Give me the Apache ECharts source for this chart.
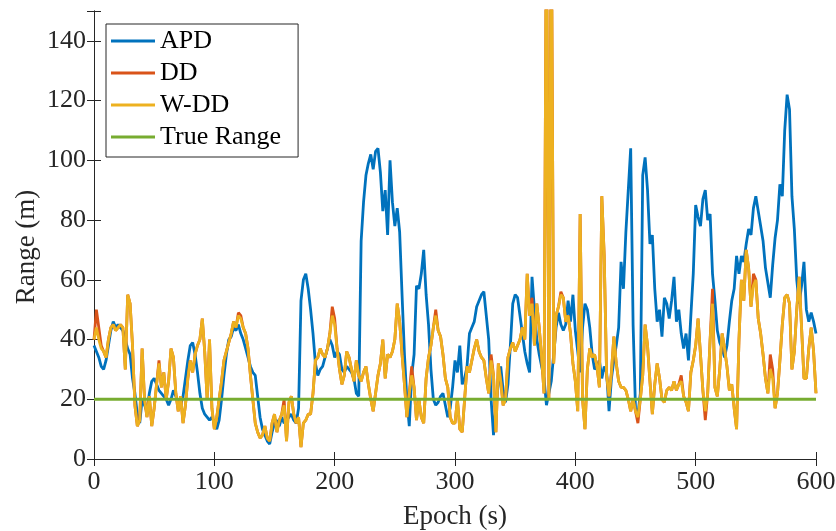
<!DOCTYPE html>
<html>
<head>
<meta charset="utf-8">
<script src="https://cdn.jsdelivr.net/npm/echarts@6/dist/echarts.min.js"></script>
<style>
  html, body { margin: 0; padding: 0; background: #ffffff; }
  #chart { width: 836px; height: 531px; }
</style>
</head>
<body>
<div id="chart"></div>
<script>
// Range estimates sampled every 2 s over a 600 s run
const sampleStep = 2;

// APD range estimate (m), one row per 20 s
const apd = [
  38, 36, 34, 31, 30, 33, 38, 43, 46, 44,
  45, 44, 43, 40, 37, 35, 27, 22, 15, 12,
  20, 18, 16, 22, 26, 27, 25, 23, 22, 21,
  20, 18, 20, 23, 21, 19, 18, 21, 27, 33,
  38, 39, 35, 29, 22, 17, 15, 14, 13, 14,
  12, 10, 13, 20, 28, 35, 40, 41, 44, 43,
  45, 42, 40, 37, 34, 31, 29, 28, 21, 14,
  10, 8, 6, 5, 9, 12, 13, 11, 14, 12,
  13, 14, 15, 13, 12, 17, 53, 60, 62, 57,
  50, 42, 32, 28, 30, 31, 34, 37, 40, 38,
  34, 36, 35, 30, 29, 31, 30, 29, 27, 22,
  21, 73, 86, 95, 99, 102, 97, 103, 104, 96,
  83, 90, 75, 100, 86, 78, 84, 76, 55, 35,
  20, 11, 28, 35, 58, 57, 62, 70, 55, 45,
  30, 20, 18, 19, 21, 22, 18, 14, 17, 24,
  33, 29, 38, 25, 27, 31, 42, 44, 46, 51,
  53, 55, 56, 48, 40, 20, 8, 18, 25, 31,
  23, 19, 25, 38, 52, 55, 54, 48, 42, 36,
  32, 29, 61, 50, 40, 35, 31, 27, 18, 22,
  26, 35, 44, 49, 45, 43, 45, 53, 46, 55,
  43, 36, 29, 44, 52, 50, 44, 35, 30, 31,
  33, 27, 31, 29, 16, 27, 33, 38, 44, 66,
  57, 76, 90, 104, 45, 17, 15, 22, 95, 101,
  90, 72, 75, 57, 46, 50, 41, 54, 52, 47,
  53, 61, 46, 50, 42, 37, 42, 33, 48, 62,
  85, 81, 78, 87, 90, 80, 82, 62, 53, 43,
  39, 37, 34, 38, 46, 53, 57, 68, 62, 68,
  66, 72, 77, 75, 84, 88, 83, 78, 73, 64,
  59, 54, 65, 74, 80, 92, 88, 110, 122, 117,
  88, 77, 60, 52, 58, 66, 50, 46, 49, 46,
  42
];

// DD range estimate (m)
const dd = [
  40, 50, 44, 38, 36, 34, 40, 44, 45, 43,
  44, 45, 44, 30, 55, 52, 38, 18, 11, 13,
  37, 20, 14, 21, 11, 17, 25, 33, 24, 29,
  20, 26, 37, 34, 22, 16, 21, 12, 18, 27,
  33, 29, 35, 38, 40, 47, 36, 20, 40, 17,
  10, 14, 20, 26, 33, 36, 39, 42, 46, 44,
  49, 48, 44, 42, 37, 28, 20, 12, 9, 7,
  8, 11, 7, 6, 12, 15, 9, 13, 15, 20,
  6, 19, 21, 15, 12, 14, 4, 12, 13, 15,
  15, 22, 33, 34, 37, 35, 34, 37, 42, 51,
  47, 37, 30, 25, 28, 36, 34, 30, 26, 33,
  28, 26, 29, 31, 25, 20, 16, 22, 28, 32,
  40, 27, 35, 34, 36, 40, 52, 46, 35, 25,
  14, 22, 31, 24, 13, 20, 14, 12, 27, 34,
  38, 44, 50, 43, 41, 35, 27, 24, 14, 12,
  12, 20, 10, 9, 20, 31, 29, 33, 37, 40,
  36, 34, 33, 27, 22, 35, 28, 9, 32, 26,
  18, 20, 34, 37, 39, 36, 38, 40, 44, 40,
  62, 48, 54, 38, 52, 44, 34, 22, 190, 20,
  190, 32, 48, 51, 56, 54, 46, 48, 42, 32,
  26, 16, 82, 20, 10, 30, 37, 34, 35, 31,
  24, 88, 68, 28, 21, 29, 41, 32, 26, 24,
  24, 23, 20, 16, 20, 16, 12, 20, 28, 45,
  38, 26, 15, 25, 32, 27, 20, 19, 23, 24,
  23, 26, 23, 25, 28, 21, 19, 16, 29, 33,
  38, 47, 35, 23, 13, 22, 40, 57, 24, 21,
  30, 42, 37, 31, 23, 25, 17, 10, 40, 60,
  53, 70, 64, 51, 62, 60, 47, 42, 35, 27,
  22, 35, 30, 17, 22, 33, 45, 54, 55, 52,
  30, 36, 50, 61, 44, 27, 27, 37, 44, 36,
  22
];

// W-DD range estimate (m)
const wdd = [
  40, 44, 40, 37, 36, 34, 40, 44, 45, 43,
  44, 45, 44, 30, 55, 52, 38, 18, 11, 13,
  37, 20, 14, 21, 11, 17, 25, 32, 24, 29,
  20, 26, 37, 34, 22, 16, 21, 12, 18, 27,
  33, 29, 35, 38, 40, 47, 36, 20, 40, 17,
  10, 14, 20, 26, 33, 36, 39, 42, 46, 44,
  48, 47, 44, 42, 37, 28, 20, 12, 9, 7,
  8, 11, 7, 6, 12, 15, 9, 13, 15, 18,
  6, 19, 21, 15, 12, 14, 4, 12, 13, 15,
  15, 22, 33, 34, 37, 35, 34, 37, 42, 48,
  45, 37, 30, 25, 28, 36, 34, 30, 26, 33,
  28, 26, 29, 31, 25, 20, 16, 22, 28, 32,
  40, 27, 35, 34, 36, 40, 52, 46, 35, 25,
  14, 22, 28, 24, 13, 20, 14, 12, 27, 34,
  38, 44, 48, 43, 41, 35, 27, 24, 14, 12,
  12, 20, 10, 9, 20, 31, 29, 33, 37, 40,
  36, 34, 33, 27, 22, 33, 28, 9, 32, 26,
  18, 20, 34, 37, 39, 36, 38, 40, 44, 40,
  62, 48, 52, 38, 52, 44, 34, 22, 190, 20,
  190, 32, 48, 51, 55, 54, 46, 48, 42, 32,
  26, 16, 82, 20, 10, 30, 37, 34, 35, 31,
  24, 88, 68, 28, 21, 29, 41, 32, 26, 24,
  24, 23, 20, 16, 20, 16, 14, 20, 28, 45,
  38, 26, 15, 25, 32, 27, 20, 19, 23, 24,
  23, 26, 23, 25, 26, 21, 19, 16, 29, 33,
  38, 47, 35, 23, 16, 22, 40, 52, 24, 21,
  30, 42, 37, 31, 23, 25, 17, 10, 40, 60,
  53, 70, 64, 51, 58, 60, 47, 42, 35, 27,
  22, 30, 27, 17, 22, 33, 45, 54, 55, 52,
  30, 36, 50, 61, 44, 27, 27, 37, 44, 36,
  22
];

// Reference distance (m)
const trueRange = 20;

// Axis setup
const epochMin = 0, epochMax = 600, epochTick = 100;
const rangeMin = 0, rangeMax = 150, rangeTick = 20;

const epochs = apd.map((_, i) => i * sampleStep);
const pairs = vals => epochs.map((t, i) => [t, vals[i]]);

const serif = '"Liberation Serif", "DejaVu Serif", serif';
const ink = '#262626';

const axisLineStyle = { show: true, lineStyle: { color: ink, width: 1 } };
const tickStyle = { show: true, inside: true, length: 7, lineStyle: { color: ink, width: 1 } };

const lineSeries = (name, vals, color) => ({
  name,
  type: 'line',
  data: pairs(vals),
  xAxisIndex: 0,
  yAxisIndex: 0,
  symbol: 'none',
  showSymbol: false,
  clip: true,
  lineStyle: { color, width: 2.8 },
  itemStyle: { color },
  emphasis: { disabled: true }
});

const chart = echarts.init(document.getElementById('chart'), null, { renderer: 'canvas' });

chart.setOption({
  animation: false,
  backgroundColor: '#ffffff',
  grid: {
    left: 94, right: 20, top: 11, bottom: 72,
    containLabel: false, outerBoundsMode: 'none'
  },
  xAxis: [
    {
      type: 'value', position: 'bottom',
      min: epochMin, max: epochMax, interval: epochTick,
      axisLine: axisLineStyle, axisTick: tickStyle, splitLine: { show: false },
      axisLabel: { fontFamily: serif, fontSize: 26, color: ink, margin: 10 },
      name: 'Epoch (s)', nameLocation: 'middle', nameGap: 44,
      nameTextStyle: { fontFamily: serif, fontSize: 27, color: ink }
    },
    {
      type: 'value', position: 'top',
      min: epochMin, max: epochMax, interval: epochTick,
      axisLine: axisLineStyle, axisTick: tickStyle, splitLine: { show: false },
      axisLabel: { show: false }
    }
  ],
  yAxis: [
    {
      type: 'value', position: 'left',
      min: rangeMin, max: rangeMax, interval: rangeTick,
      axisLine: axisLineStyle, axisTick: tickStyle, splitLine: { show: false },
      axisLabel: {
        fontFamily: serif, fontSize: 26, color: ink, margin: 8,
        formatter: v => (v % rangeTick === 0 ? String(v) : '')
      },
      name: 'Range (m)', nameLocation: 'middle', nameGap: 54,
      nameMoveOverlap: false,
      nameTextStyle: { fontFamily: serif, fontSize: 27, color: ink, padding: [0, 24, 0, 0] }
    },
    {
      type: 'value', position: 'right',
      min: rangeMin, max: rangeMax, interval: rangeTick,
      axisLine: axisLineStyle, axisTick: tickStyle, splitLine: { show: false },
      axisLabel: { show: false }
    }
  ],
  legend: {
    orient: 'vertical',
    left: 106, top: 24,
    icon: 'rect',
    itemWidth: 44, itemHeight: 3, itemGap: 4,
    padding: [3, 17, 6, 5],
    borderColor: ink, borderWidth: 1,
    backgroundColor: '#ffffff',
    textStyle: { fontFamily: serif, fontSize: 26, color: '#000000', lineHeight: 28 },
    data: ['APD', 'DD', 'W-DD', 'True Range']
  },
  series: [
    lineSeries('APD', apd, '#0072BD'),
    lineSeries('DD', dd, '#D95319'),
    lineSeries('W-DD', wdd, '#EDB120'),
    {
      name: 'True Range',
      type: 'line',
      data: [[epochMin, trueRange], [epochMax, trueRange]],
      symbol: 'none', showSymbol: false,
      lineStyle: { color: '#77AC30', width: 2.8 },
      itemStyle: { color: '#77AC30' },
      emphasis: { disabled: true }
    }
  ]
});
</script>
</body>
</html>
